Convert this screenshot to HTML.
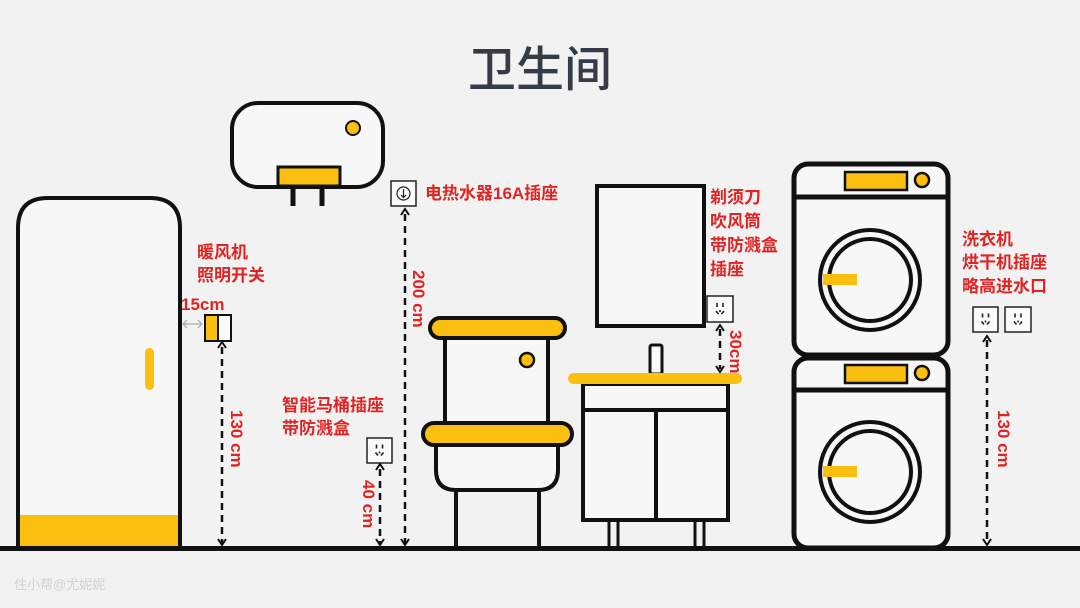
<!DOCTYPE html>
<html><head><meta charset="utf-8"><style>
html,body{margin:0;padding:0;background:#f2f2f2;}
svg{display:block;}
.r{fill:#e02424;font-family:"Liberation Sans","Noto Sans CJK SC",sans-serif;font-weight:bold;font-size:17px;}
</style></head><body>
<svg width="1080" height="608" viewBox="0 0 1080 608" xmlns="http://www.w3.org/2000/svg">
<defs>
<g id="face" stroke="#222" stroke-width="1.6" fill="none">
<line x1="-3" y1="-6" x2="-3" y2="-2"/><line x1="3" y1="-6" x2="3" y2="-2"/>
<line x1="-4" y1="2" x2="-1.5" y2="5"/><line x1="4" y1="2" x2="1.5" y2="5"/><line x1="0" y1="1" x2="0" y2="3"/>
</g>
</defs>
<rect width="1080" height="608" fill="#f2f2f2"/>
<text x="540" y="86" text-anchor="middle" font-family="Noto Sans CJK SC,sans-serif" font-weight="500" font-size="48" fill="#363c45">卫生间</text>
<g stroke="#111" stroke-width="4" fill="none">
<path d="M18 548 V228 Q18 198 48 198 H150 Q180 198 180 228 V548" fill="#f7f7f7"/>
<rect x="20" y="515" width="158" height="31" fill="#fbbf0f" stroke="none"/>
<rect x="232" y="103" width="151" height="84" rx="26" fill="#f7f7f7"/>
<line x1="293" y1="187" x2="293" y2="206" stroke-width="5"/>
<line x1="322" y1="187" x2="322" y2="206" stroke-width="5"/>
<rect x="278" y="167" width="62" height="19" fill="#fbbf0f" stroke-width="3"/>
<circle cx="353" cy="128" r="7" fill="#fbbf0f" stroke-width="2"/>
<rect x="445" y="336" width="103" height="90" fill="#f7f7f7"/>
<rect x="430" y="318" width="135" height="20" rx="10" fill="#fbbf0f"/>
<circle cx="527" cy="360" r="7" fill="#fbbf0f" stroke-width="2.5"/>
<path d="M436 445 V470 Q436 490 456 490 H538 Q558 490 558 470 V445" fill="#f7f7f7"/>
<rect x="423" y="423" width="149" height="22" rx="11" fill="#fbbf0f"/>
<path d="M456 490 V548 M539 490 V548"/>
<rect x="597" y="186" width="107" height="140" fill="#f7f7f7"/>
<rect x="650" y="345" width="12" height="29" rx="2" fill="#f7f7f7" stroke-width="3"/>
<rect x="583" y="384" width="145" height="136" fill="#f7f7f7"/>
<line x1="583" y1="410" x2="728" y2="410"/>
<line x1="656" y1="410" x2="656" y2="520"/>
<path d="M609 520 V548 M618 520 V548 M695 520 V548 M704 520 V548" stroke-width="3"/>
<rect x="568" y="373" width="174" height="11" rx="5.5" fill="#fbbf0f" stroke="none"/>
<rect x="794" y="164" width="154" height="191" rx="14" fill="#f7f7f7" stroke-width="5"/>
<line x1="794" y1="197" x2="948" y2="197" stroke-width="5"/>
<rect x="845" y="172" width="62" height="18" fill="#fbbf0f" stroke-width="2.5"/>
<circle cx="922" cy="180" r="7" fill="#fbbf0f" stroke-width="2.5"/>
<circle cx="870" cy="280" r="50"/>
<circle cx="870" cy="280" r="41"/>
<rect x="823" y="274" width="34" height="11" fill="#fbbf0f" stroke="none"/>
<rect x="794" y="358" width="154" height="190" rx="14" fill="#f7f7f7" stroke-width="5"/>
<line x1="794" y1="390" x2="948" y2="390" stroke-width="5"/>
<rect x="845" y="365" width="62" height="18" fill="#fbbf0f" stroke-width="2.5"/>
<circle cx="922" cy="373" r="7" fill="#fbbf0f" stroke-width="2.5"/>
<circle cx="870" cy="472" r="50"/>
<circle cx="870" cy="472" r="41"/>
<rect x="823" y="466" width="34" height="11" fill="#fbbf0f" stroke="none"/>
</g>
<rect x="145" y="348" width="9" height="42" rx="4.5" fill="#fbbf0f"/>
<rect x="0" y="546" width="1080" height="5" fill="#111"/>
<g stroke="#222" stroke-width="1.5" fill="#fafafa">
<rect x="391" y="181" width="25" height="25"/>
<rect x="367" y="438" width="25" height="25"/>
<rect x="707" y="296" width="26" height="26"/>
<rect x="973" y="307" width="25" height="25"/>
<rect x="1005" y="307" width="26" height="25"/>
<rect x="205" y="315" width="26" height="26" stroke="#111" stroke-width="2"/>
</g>
<rect x="206" y="316" width="12" height="24" fill="#fbbf0f"/>
<line x1="218" y1="315" x2="218" y2="341" stroke="#111" stroke-width="2"/>
<circle cx="403.5" cy="193.5" r="6.5" fill="none" stroke="#222" stroke-width="1.2"/>
<path d="M403.5 189 V197 M401 195 L403.5 197.5 L406 195" stroke="#222" stroke-width="1.2" fill="none"/>
<use href="#face" x="379.5" y="450.5"/>
<use href="#face" x="720" y="309"/>
<use href="#face" x="985.5" y="319.5"/>
<use href="#face" x="1018" y="319.5"/>
<g stroke="#111" stroke-width="2.5" stroke-dasharray="7,5" fill="none">
<line x1="405" y1="214" x2="405" y2="544"/>
<line x1="222" y1="347" x2="222" y2="544"/>
<line x1="380" y1="469" x2="380" y2="544"/>
<line x1="720" y1="329" x2="720" y2="369"/>
<line x1="987" y1="340" x2="987" y2="544"/>
</g>
<g stroke="#111" stroke-width="2" fill="none">
<path d="M401 215 L405 209 L409 215 M401 539 L405 545 L409 539"/>
<path d="M218 348 L222 342 L226 348 M218 539 L222 545 L226 539"/>
<path d="M376 470 L380 464 L384 470 M376 539 L380 545 L384 539"/>
<path d="M716 331 L720 325 L724 331 M716 366 L720 372 L724 366"/>
<path d="M983 342 L987 336 L991 342 M983 539 L987 545 L991 539"/>
</g>
<path d="M183 324 H202 M187 320 L183 324 L187 328 M198 320 L202 324 L198 328" stroke="#aaa" stroke-width="1.2" fill="none"/>
<text class="r" x="425" y="199">电热水器16A插座</text>
<text class="r" x="197" y="258">暖风机</text>
<text class="r" x="197" y="281">照明开关</text>
<text class="r" x="181" y="310" font-size="15">15cm</text>
<text class="r" x="282" y="411">智能马桶插座</text>
<text class="r" x="282" y="434">带防溅盒</text>
<text class="r" x="710" y="203">剃须刀</text>
<text class="r" x="710" y="227">吹风筒</text>
<text class="r" x="710" y="251">带防溅盒</text>
<text class="r" x="710" y="275">插座</text>
<text class="r" x="962" y="245">洗衣机</text>
<text class="r" x="962" y="268">烘干机插座</text>
<text class="r" x="962" y="292">略高进水口</text>
<g class="r" font-size="16">
<text transform="translate(413,270) rotate(90)">200 cm</text>
<text transform="translate(231,410) rotate(90)">130 cm</text>
<text transform="translate(363,480) rotate(90)">40 cm</text>
<text transform="translate(730,330) rotate(90)">30cm</text>
<text transform="translate(998,410) rotate(90)">130 cm</text>
</g>
<text x="14" y="589" font-family="Liberation Sans,Noto Sans CJK SC,sans-serif" font-size="13" fill="#d0d0d0">住小帮@尤妮妮</text>
</svg>
</body></html>
